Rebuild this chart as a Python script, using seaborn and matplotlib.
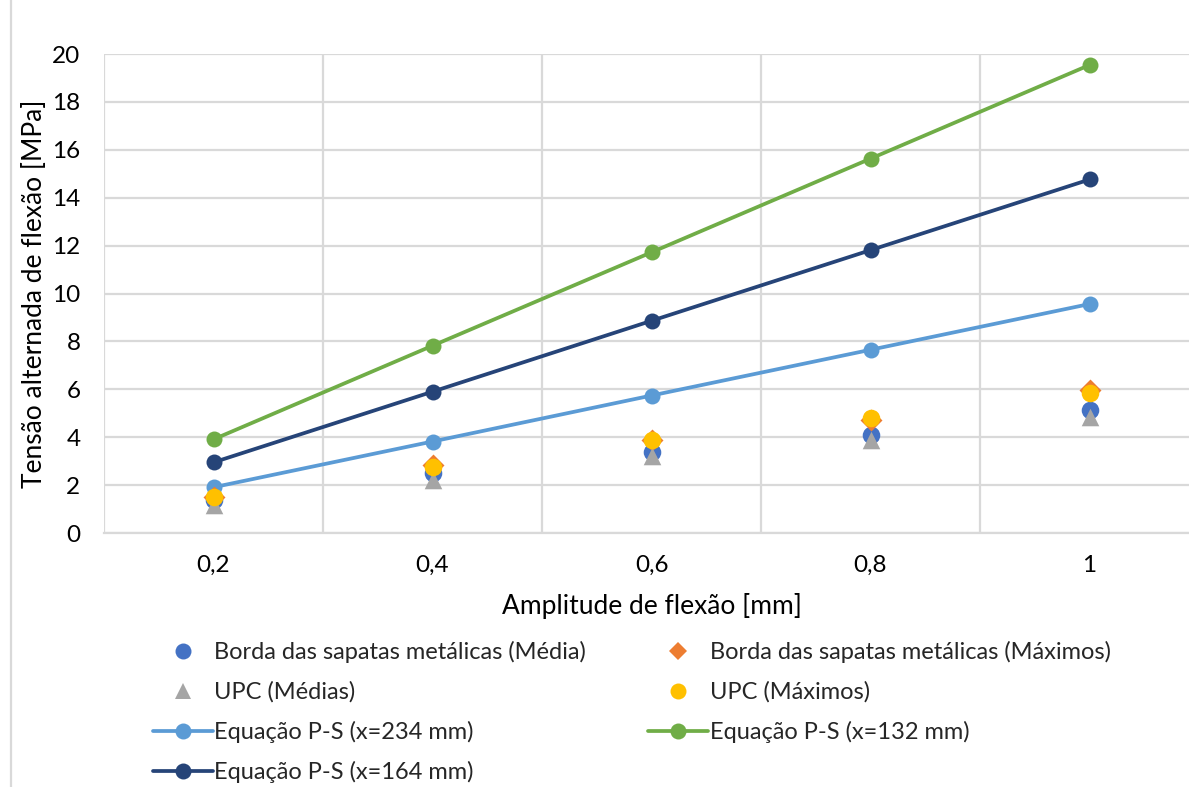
import matplotlib
matplotlib.use("Agg")
import matplotlib.pyplot as plt
from matplotlib.lines import Line2D
import seaborn as sns

# Amplitude de flexão [mm]
amplitude = [0.2, 0.4, 0.6, 0.8, 1.0]
amplitude_labels = ["0,2", "0,4", "0,6", "0,8", "1"]

# Medições (Tensão alternada [MPa])
borda_media = [1.38, 2.50, 3.38, 4.09, 5.14]
borda_maximos = [1.50, 2.84, 3.90, 4.70, 5.95]
upc_medias = [1.17, 2.20, 3.20, 3.90, 4.85]
upc_maximos = [1.52, 2.77, 3.88, 4.80, 5.85]

# Equação P-S
ps_234 = [1.91, 3.82, 5.74, 7.65, 9.56]
ps_132 = [3.91, 7.82, 11.72, 15.63, 19.54]
ps_164 = [2.95, 5.90, 8.86, 11.81, 14.76]

sns.set_style("white")
plt.rcParams["font.family"] = ["Lato", "DejaVu Sans"]

W, H = 1189, 787
fig = plt.figure(figsize=(W / 100, H / 100), dpi=100)
ax = fig.add_axes([104 / W, (H - 533) / H, (1199 - 104) / W, (533 - 54) / H])

grid_c = "#d9d9d9"
txt_c = "#000000"

lines = [
    ("Equação P-S (x=234 mm)", ps_234, "#5B9BD5"),
    ("Equação P-S (x=132 mm)", ps_132, "#70AD47"),
    ("Equação P-S (x=164 mm)", ps_164, "#264478"),
]
for name, vals, col in lines:
    sns.lineplot(x=amplitude, y=vals, ax=ax, color=col, linewidth=2.7,
                 marker="o", markersize=11.5, markeredgewidth=0, zorder=3)

points = [
    ("Borda das sapatas metálicas (Média)", borda_media, "#4472C4", "o", 160),
    ("Borda das sapatas metálicas (Máximos)", borda_maximos, "#ED7D31", "D", 125),
    ("UPC (Médias)", upc_medias, "#A5A5A5", "^", 160),
    ("UPC (Máximos)", upc_maximos, "#FFC000", "o", 160),
]
for i, (name, vals, col, mk, s) in enumerate(points):
    sns.scatterplot(x=amplitude, y=vals, ax=ax, color=col, marker=mk, s=s,
                    linewidth=0, zorder=4 + i)

ax.set_xlim(0.1, 1.1)
ax.set_ylim(0, 20)
ax.set_xticks(amplitude)
ax.set_xticklabels(amplitude_labels)
ax.set_yticks(range(0, 21, 2))
ax.set_xticks([0.1, 0.3, 0.5, 0.7, 0.9, 1.1], minor=True)
ax.grid(False)
ax.grid(True, which="minor", axis="x", color=grid_c, linewidth=1.6)
ax.grid(True, which="major", axis="y", color=grid_c, linewidth=1.6)
for sp in ["top", "right", "left"]:
    ax.spines[sp].set_visible(False)
ax.spines["bottom"].set_color(grid_c)
ax.spines["bottom"].set_linewidth(1.6)
ax.tick_params(axis="both", which="both", length=0, labelsize=17.5, colors=txt_c)
ax.tick_params(axis="x", pad=16)
ax.tick_params(axis="y", pad=17)
ax.set_axisbelow(True)

ax.set_xlabel("Amplitude de flexão [mm]", fontsize=19, color=txt_c)
ax.set_ylabel("Tensão alternada de flexão [MPa]", fontsize=19, color=txt_c)
ax.yaxis.set_label_coords((35 - 104) / (1199 - 104), 0.5)
ax.xaxis.set_label_coords((652 - 104) / (1199 - 104), -(606 - 533) / (533 - 54))
ax.xaxis.label.set_va("center")
ax.yaxis.label.set_va("center")

def pt(name, col, mk, ms):
    return Line2D([], [], linestyle="none", marker=mk, color=col, markersize=ms,
                  markeredgewidth=0, label=name)

def ln(name, col):
    return Line2D([], [], color=col, linewidth=2.7, marker="o", markersize=11.5,
                  markeredgewidth=0, label=name)

handles = [
    pt(points[0][0], points[0][2], "o", 11.5),
    pt(points[2][0], points[2][2], "^", 11.5),
    ln(lines[0][0], lines[0][2]),
    ln(lines[2][0], lines[2][2]),
    pt(points[1][0], points[1][2], "D", 9.5),
    pt(points[3][0], points[3][2], "o", 11.5),
    ln(lines[1][0], lines[1][2]),
]
leg = fig.legend(handles=handles, ncol=2, loc="upper left",
                 bbox_to_anchor=(153 / W, 1 - 641 / H), frameon=False,
                 fontsize=17, handlelength=2.55, handletextpad=0.05,
                 columnspacing=2.62, labelspacing=0.77, borderaxespad=0,
                 borderpad=0)

# moldura à esquerda
fig.add_artist(Line2D([11 / W, 11 / W], [0, 1], color=grid_c, linewidth=1.6))

fig.savefig("out.png", dpi=100)
